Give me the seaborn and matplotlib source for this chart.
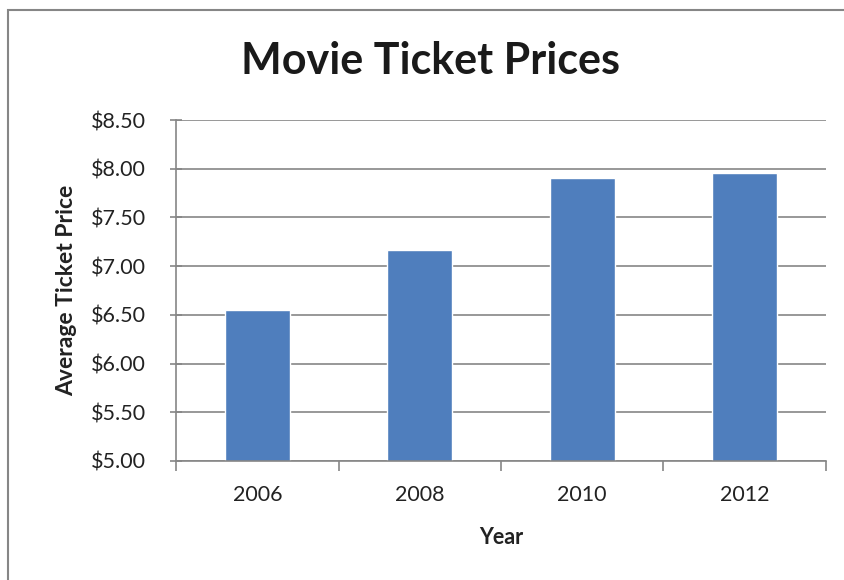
import matplotlib
matplotlib.use("Agg")
import matplotlib.pyplot as plt
import seaborn as sns
import pandas as pd
from matplotlib.patches import Rectangle
from matplotlib.ticker import FuncFormatter, FixedLocator

years = ["2006", "2008", "2010", "2012"]
prices = [6.55, 7.17, 7.90, 7.96]
y_ticks = [5.00, 5.50, 6.00, 6.50, 7.00, 7.50, 8.00, 8.50]

df = pd.DataFrame({"Year": years, "Price": prices})

sns.set_style("white")
plt.rcParams["font.family"] = ["Lato", "DejaVu Sans"]

grey = "#868686"
fig = plt.figure(figsize=(8.45, 5.8), dpi=100)
ax = fig.add_axes([0.2083, 0.2052, 0.7692, 0.5879])

sns.barplot(data=df, x="Year", y="Price", color="#4F7EBD", width=0.4,
            saturation=1, ax=ax)

ax.set_ylim(5.0, 8.5)
ax.set_xlim(-0.5, len(years) - 0.5)
ax.yaxis.set_major_locator(FixedLocator(y_ticks))
ax.yaxis.set_major_formatter(FuncFormatter(lambda v, p: f"${v:.2f}"))
ax.yaxis.grid(True, color=grey, linewidth=1.2)
ax.set_axisbelow(True)

# category boundary ticks on x axis
ax.set_xticks([i - 0.5 for i in range(len(years) + 1)], minor=True)
ax.tick_params(axis="x", which="major", bottom=False, length=0, pad=17,
               labelsize=15.5, colors="#222222")
ax.tick_params(axis="x", which="minor", bottom=True, length=7, width=1.2,
               color=grey, direction="out")
ax.tick_params(axis="y", left=True, length=9, width=1.2, color=grey, direction="inout",
               labelsize=15.5, colors="#222222", pad=17)

for s in ["top", "right"]:
    ax.spines[s].set_visible(False)
for s in ["left", "bottom"]:
    ax.spines[s].set_color(grey)
    ax.spines[s].set_linewidth(1.2)

ax.set_xlabel("Year", fontsize=15.5, fontweight="bold", color="#222222", labelpad=16)
ax.set_ylabel("Average Ticket Price", fontsize=16.5, fontweight="bold", color="#222222", labelpad=10)
fig.text(0.51, 0.895, "Movie Ticket Prices", ha="center", va="center",
         fontsize=31, fontweight="bold", color="#1a1a1a")

# outer chart frame
fig.patches.append(Rectangle((8 / 845, -0.05), 1.0, 1.05 - 10 / 580,
                             transform=fig.transFigure, fill=False,
                             edgecolor=grey, linewidth=1.5))

fig.savefig("out.png", dpi=100)
